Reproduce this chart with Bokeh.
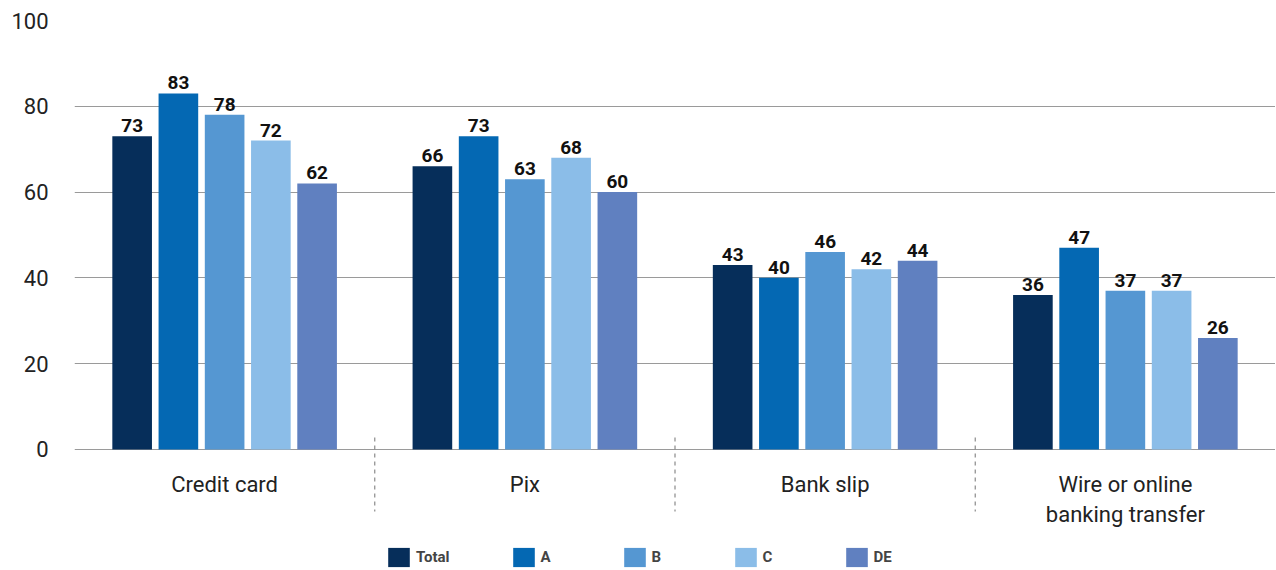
from bokeh.plotting import figure
from bokeh.models import ColumnDataSource, FactorRange, Range1d, FixedTicker, Legend, LegendItem
from bokeh.transform import dodge
from bokeh.core.properties import value
from bokeh.embed import file_html
from bokeh.resources import INLINE

categories = ["Credit card", "Pix", "Bank slip", "Wire or online\nbanking transfer"]
series = ["Total", "A", "B", "C", "DE"]
total = [73, 66, 43, 36]
a_vals = [83, 73, 40, 47]
b_vals = [78, 63, 46, 37]
c_vals = [72, 68, 42, 37]
de_vals = [62, 60, 44, 26]
colors = ["#062e5a", "#0468b3", "#5597d2", "#8bbde8", "#6080c0"]
y_ticks = [0, 20, 40, 60, 80, 100]

FONT = "Roboto"

data = {"cat": categories}
keys = ["total", "a", "b", "c", "de"]
for k, vals in zip(keys, [total, a_vals, b_vals, c_vals, de_vals]):
    data[k] = vals
    data[k + "_lbl"] = [str(v) for v in vals]
src = ColumnDataSource(data)

p = figure(frame_width=1201, frame_height=549, x_range=FactorRange(*categories, range_padding=0),
           y_range=Range1d(-28.0, 100), x_axis_location=None,
           output_backend="svg", toolbar_location=None)
p.min_border_left = 74
p.min_border_right = 0
p.min_border_top = 20
p.min_border_bottom = 0
p.outline_line_color = None
p.background_fill_color = "white"
p.xgrid.visible = False

yax = p.yaxis[0]
yax.ticker = FixedTicker(ticks=y_ticks)
yax.axis_line_color = None
yax.major_tick_line_color = None
yax.minor_tick_line_color = None
yax.major_label_standoff = 20
yax.major_label_text_font = FONT
yax.major_label_text_font_size = "22px"
yax.major_label_text_color = "#222222"
p.ygrid.ticker = FixedTicker(ticks=y_ticks)
p.ygrid.grid_line_color = "#9a9a9a"
p.ygrid.grid_line_width = 1.2

offsets = [-0.308, -0.154, 0.0, 0.154, 0.308]
bw = 0.132
items = []
for k, s, col, off in zip(keys, series, colors, offsets):
    r = p.vbar(x=dodge("cat", off, range=p.x_range), top=k, width=bw, bottom=0,
               source=src, fill_color=col, line_color=None)
    p.text(x=dodge("cat", off, range=p.x_range), y=k, text=k + "_lbl", source=src,
           text_align="center", text_baseline="bottom", y_offset=-4,
           text_font=value(FONT), text_font_style="bold", text_font_size="19px",
           text_color="#111111")
    items.append(LegendItem(label=s, renderers=[r]))

# category labels
p.text(x="cat", y=-5.3, text="cat", source=src, text_align="center", text_baseline="top",
       text_font=value(FONT), text_font_size="22px", text_color="#222222",
       text_line_height=1.2)

# separators
sep = ColumnDataSource({"x": categories[:3]})
p.segment(x0=dodge("x", 0.5, range=p.x_range), y0=2.8, x1=dodge("x", 0.5, range=p.x_range),
          y1=-14.5, source=sep, line_color="#8a8a8a", line_dash="4 4", line_width=1.2)

legend = Legend(items=items, orientation="horizontal", location=(311, 0),
                glyph_width=27, glyph_height=24, label_height=24, label_standoff=4, spacing=60,
                label_text_font=FONT, label_text_font_style="bold",
                label_text_font_size="15px", border_line_color=None,
                background_fill_alpha=0, padding=0, margin=0)
p.add_layout(legend, "center")

open("out.html", "w").write(file_html(p, INLINE))
